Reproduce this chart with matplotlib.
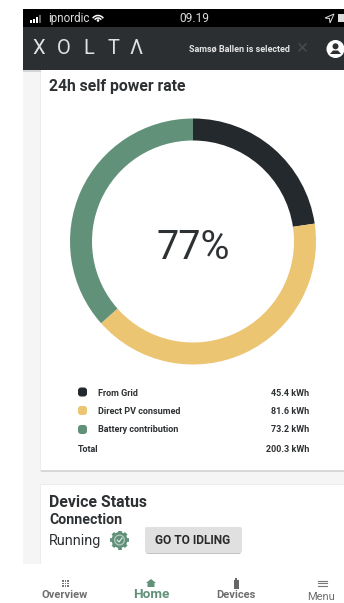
import numpy as np
import matplotlib
matplotlib.use('Agg')
import matplotlib.pyplot as plt
from matplotlib.patches import Rectangle, FancyBboxPatch, Circle, Polygon, Arc

plt.rcParams['font.family'] = ['Roboto', 'DejaVu Sans']

###############################################################################
# Data
sources = ['From Grid', 'Direct PV consumed', 'Battery contribution']
energy_kwh = [45.4, 81.6, 73.2]
energy_labels = ['45.4 kWh', '81.6 kWh', '73.2 kWh']
total_label = '200.3 kWh'
self_power_rate = '77%'
source_colors = ['#24292d', '#ecc573', '#62917a']
nav_labels = ['Overview', 'Home', 'Devices', 'Menu']

W, H = 344, 603
DARK = '#2b2f31'
GREEN = '#62917a'
TEXT = '#2e3133'

fig = plt.figure(figsize=(W / 100, H / 100), dpi=100, facecolor='white')
ax = fig.add_axes([0, 0, 1, 1])
ax.set_xlim(0, W)
ax.set_ylim(H, 0)
ax.axis('off')

def box(x, y, w, h, color, z=1):
	ax.add_patch(Rectangle((x, y), w, h, facecolor=color, edgecolor='none', zorder=z))

###############################################################################
# Page background and cards
box(23, 70, 321, 494, '#f5f5f5')
box(40, 70, 304, 401.5, '#ececec', z=2)
box(41, 470, 303, 1.5, '#d8d8d8', z=2)
box(41, 70, 303, 400, 'white', z=3)
box(40, 484, 304, 80, '#ececec', z=2)
box(41, 485, 303, 79, 'white', z=3)

###############################################################################
# Status bar and header
box(23, 9, 321, 18, 'black', z=4)
box(23, 27, 321, 43, DARK, z=4)
box(23, 70, 321, 2, '#d5d5d5', z=2)
for i, bar_h in enumerate([3, 4, 6, 8]):
	box(29.5 + i * 3, 22.5 - bar_h, 2.2, bar_h, 'white' if i < 3 else '#666666', z=5)
ax.text(48, 18.5, 'ipnordic', color='#dddddd', fontsize=8.4, va='center', zorder=5)
ax.text(179, 18.5, '09.19', color='#dddddd', fontsize=8.6, va='center', zorder=5)
# Wifi symbol
for size, lw in zip([13, 8], [1.1, 1.1]):
	ax.add_patch(Arc((98, 22), size, size, theta1=215, theta2=325, color='white', lw=lw, zorder=5))
ax.add_patch(Circle((98, 20.5), 1.3, facecolor='white', edgecolor='none', zorder=5))
ax.add_patch(Polygon([(325, 18), (334, 14), (330, 23), (329.5, 18.5)], facecolor='none', edgecolor='#dddddd', lw=0.7, zorder=5))
box(338, 14, 6, 8, '#dddddd', z=5)
logo_x = [38.5, 64, 89, 114, 136]
for x, letter in zip(logo_x, 'XOLTΛ'):
	ax.text(x, 49, letter, color='#e2e2e2', fontsize=14.5, fontweight='normal',
			ha='center', va='center', zorder=5)
ax.text(189, 49.5, 'Samsø Ballen is selected', color='#e4e4e4', fontsize=6.5, fontweight='bold',
		va='center', zorder=5)
ax.text(302, 49, '\u00D7', color='#44484b', fontsize=15, ha='center', va='center', zorder=5)
ax.add_patch(Circle((335.5, 49), 9, facecolor='white', edgecolor='none', zorder=5))
ax.add_patch(Circle((335.5, 46.3), 3, facecolor=DARK, edgecolor='none', zorder=6))
ax.add_patch(Polygon([(330, 54), (341, 54), (338, 50.5), (333, 50.5)], facecolor=DARK, edgecolor='none', zorder=6))

###############################################################################
# Donut
ax.text(49, 86, '24h self power rate', color=TEXT, fontsize=11.3, fontweight='bold', va='center', zorder=5)

cx, cy, r = 193, 241.5, 123
pie_ax = fig.add_axes([(cx - r) / W, 1 - (cy + r) / H, 2 * r / W, 2 * r / H], zorder=5)
pie_ax.pie(energy_kwh, colors=source_colors, startangle=90, counterclock=False, radius=1,
		   wedgeprops=dict(width=22 / r, edgecolor='none'))
pie_ax.set_xlim(-1, 1)
pie_ax.set_ylim(-1, 1)
pie_ax.text(0, -0.015, self_power_rate, color=TEXT, fontsize=28.5, ha='center', va='center_baseline')

###############################################################################
# Legend table
row_y = [393, 411, 430]
marker_y = [392, 410.5, 429.5]
for y, my, name, color, label in zip(row_y, marker_y, sources, source_colors, energy_labels):
	ax.add_patch(FancyBboxPatch((79.5, my - 3), 6, 6, boxstyle='round,pad=1.5,rounding_size=3',
								facecolor=color, edgecolor='none', zorder=5))
	ax.text(97.5, y, name, color=TEXT, fontsize=6.5, fontweight='bold', va='center', zorder=5)
	ax.text(309, y, label, color=TEXT, fontsize=6.5, fontweight='bold', ha='right', va='center', zorder=5)
ax.text(77.5, 449, 'Total', color=TEXT, fontsize=6.5, fontweight='bold', va='center', zorder=5)
ax.text(309, 449, total_label, color=TEXT, fontsize=6.5, fontweight='bold', ha='right', va='center', zorder=5)

###############################################################################
# Device status card
ax.text(49, 502.5, 'Device Status', color=TEXT, fontsize=11.4, fontweight='bold', va='center', zorder=5)
ax.text(49, 519.5, 'Connection', color=TEXT, fontsize=10.2, fontweight='bold', va='center', zorder=5)
ax.text(49, 541, 'Running', color=TEXT, fontsize=10.4, va='center', zorder=5)
# Gear icon with check mark
gx, gy = 119.5, 540
for a in np.arange(8) * np.pi / 4:
	ax.plot([gx, gx + 9.5 * np.cos(a)], [gy, gy + 9.5 * np.sin(a)], color=GREEN, lw=2.6,
			solid_capstyle='butt', zorder=5)
ax.add_patch(Circle((gx, gy), 8, facecolor=GREEN, edgecolor='none', zorder=5))
ax.add_patch(Circle((gx, gy), 5.5, facecolor='#b5cdc1', edgecolor='none', zorder=6))
ax.add_patch(Circle((gx, gy), 4.3, facecolor=GREEN, edgecolor='none', zorder=7))
ax.plot([gx - 2.3, gx - 0.5, gx + 2.6], [gy, gy + 2, gy - 2], color='#e6efea', lw=0.8, zorder=8)
ax.add_patch(FancyBboxPatch((146, 529), 95, 25, boxstyle='round,pad=0,rounding_size=2',
							facecolor='#c2c2c2', edgecolor='none', zorder=4))
ax.add_patch(FancyBboxPatch((145, 527), 97, 26, boxstyle='round,pad=0,rounding_size=2',
							facecolor='#e0e0e0', edgecolor='none', zorder=5))
ax.text(193, 540.5, 'GO TO IDLING', color='#2a2a2a', fontsize=8.6, fontweight='bold',
		ha='center', va='center', zorder=6)

###############################################################################
# Bottom navigation
nav_x = [65, 151, 236, 321]
nav_y = [595, 594, 595, 596.5]
for x, y, label in zip(nav_x, nav_y, nav_labels):
	active = label == 'Home'
	ax.text(x, y, label, color=GREEN if active else '#6f6f6f', fontsize=9.7 if active else 8,
			fontweight='bold' if label != 'Menu' else 'normal', ha='center', va='center', zorder=5)
# Overview grid icon
for col in range(3):
	for row in range(3):
		box(62 + col * 2.5, 580 + row * 2.5, 1.6, 1.6, '#777777', z=5)
# Home icon
ax.add_patch(Polygon([(146, 583), (151, 579), (156, 583), (154.5, 583), (154.5, 587), (147.5, 587), (147.5, 583)],
					 facecolor=GREEN, edgecolor='none', zorder=5))
# Devices battery icon
box(233.5, 580, 5, 9, '#666666', z=5)
box(235, 578, 2, 2, '#666666', z=5)
# Menu icon
for y in [580.5, 583, 585.5]:
	ax.plot([318, 327], [y, y], color='#777777', lw=0.8, zorder=5)

fig.savefig('out.png', dpi=100)
